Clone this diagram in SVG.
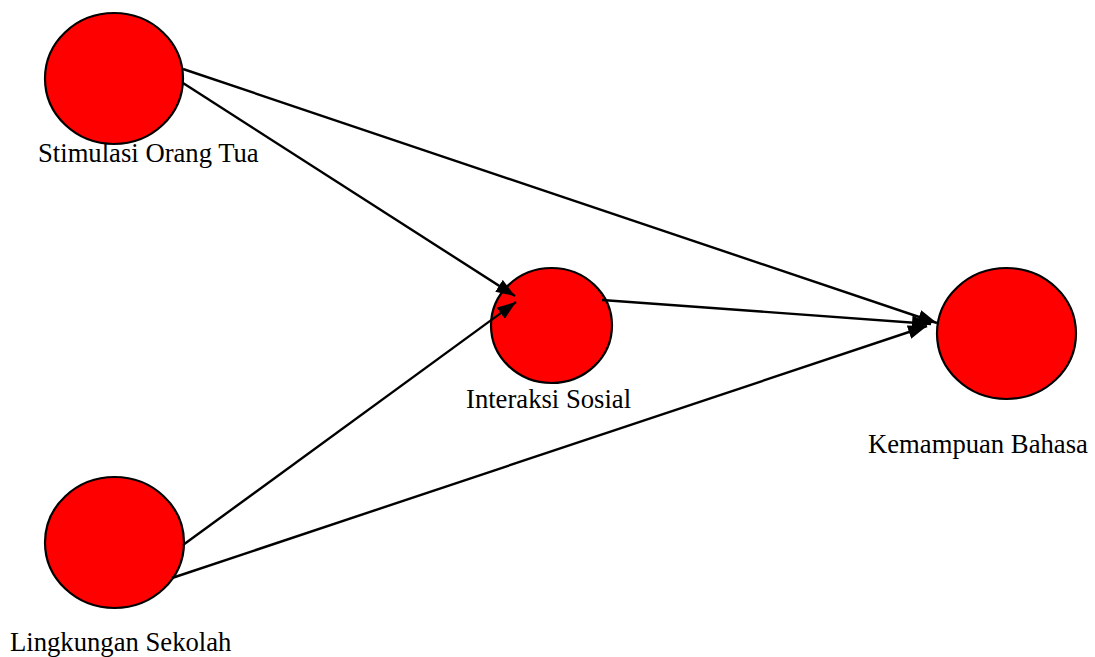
<svg xmlns="http://www.w3.org/2000/svg" width="1095" height="657" viewBox="0 0 1095 657">
<style>
.node{fill:#ff0000;stroke:#000;stroke-width:2.2}
.lbl{font-family:"Liberation Serif","Times New Roman",serif;font-size:26.67px;fill:#000}
.edge{stroke:#000;stroke-width:2.4;fill:none;marker-end:url(#ah)}
</style>
<defs>
<marker id="ah" markerUnits="userSpaceOnUse" markerWidth="20" markerHeight="14" refX="19" refY="7" orient="auto">
<path d="M0,0 L19,7 L0,14 Z" fill="#000"/>
</marker>
</defs>
<rect width="1095" height="657" fill="#fff"/>
<g id="stimulasi">
<ellipse class="node" cx="114" cy="78.5" rx="69" ry="65.5"/>
<text class="lbl" x="38" y="162">Stimulasi Orang Tua</text>
</g>
<g id="interaksi">
<ellipse class="node" cx="551.5" cy="325.5" rx="60.5" ry="57.5"/>
<text class="lbl" x="466" y="408">Interaksi Sosial</text>
</g>
<g id="kemampuan">
<ellipse class="node" cx="1006.5" cy="333.5" rx="69.5" ry="65.5"/>
<text class="lbl" x="868" y="453">Kemampuan Bahasa</text>
</g>
<g id="lingkungan">
<ellipse class="node" cx="114.5" cy="542.5" rx="69.5" ry="65.5"/>
<text class="lbl" x="10" y="651">Lingkungan Sekolah</text>
</g>
<g id="connectors">
<path class="edge" d="M183,69 L937,323"/>
<path class="edge" d="M183,83 L515,296"/>
<path class="edge" d="M183,545 L516,302"/>
<path class="edge" d="M172,578 L927,326"/>
<path class="edge" d="M602,300 L931,324"/>
</g>
</svg>
